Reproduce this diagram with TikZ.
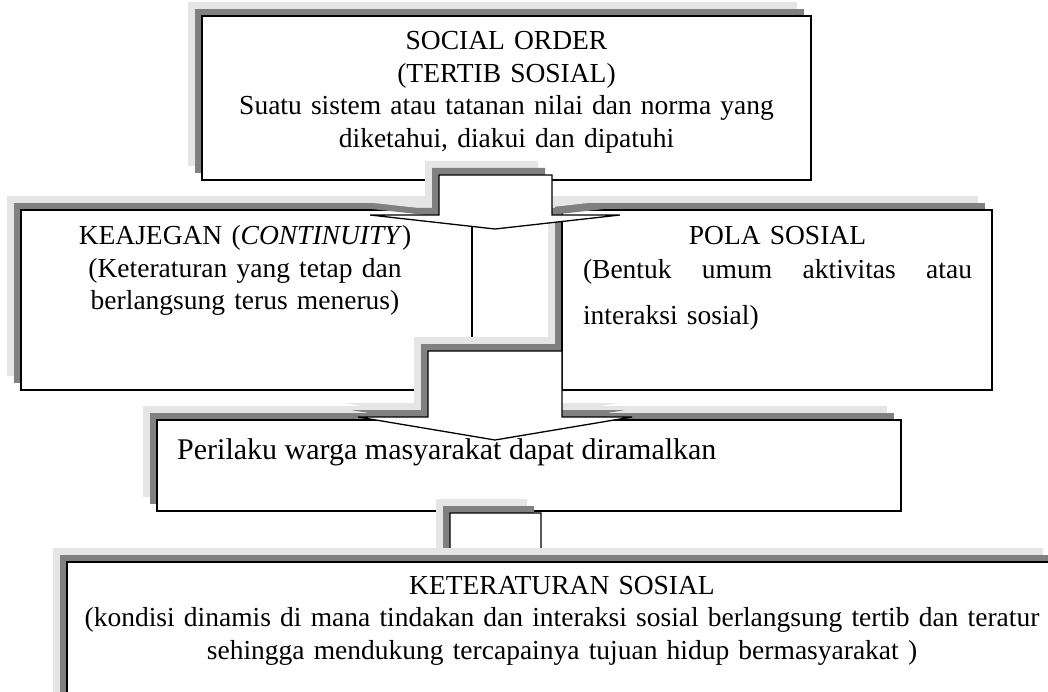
\documentclass[tikz,border=0pt]{standalone}
\usepackage{fontspec}
\setmainfont{Liberation Serif}

\definecolor{shadelight}{RGB}{229,229,229}
\definecolor{shadedark}{RGB}{128,128,128}

\begin{document}
\begin{tikzpicture}[x=1pt, y=-1pt]
		\tikzstyle {frame} = [draw, line width=1.6pt, fill=white, inner sep=0pt, outer sep=0pt, anchor=north west,
			preaction={fill=shadelight, transform canvas={xshift=-14pt, yshift=14pt}},
			preaction={fill=shadedark, transform canvas={xshift=-7pt, yshift=7pt}}]
		\tikzstyle {block arrow} = [draw, line width=1.3pt, fill=white, line join=miter,
			preaction={fill=shadelight, transform canvas={xshift=-14pt, yshift=14pt}},
			preaction={fill=shadedark, transform canvas={xshift=-7pt, yshift=7pt}}]
		\tikzstyle {boxtext} = [inner sep=0pt, anchor=base, align=center, font=\fontsize{27.5}{32.5}\selectfont]

		\useasboundingbox (0,0) rectangle (1048,692);
		\fill[white] (0,0) rectangle (1048,692);
		\clip (0,0) rectangle (1048,692);

		% social order
		\node[frame, minimum width=609, minimum height=164] (order) at (202,16) {};
		\node[boxtext, text width=600] (ordertext) at (506.5,50) {SOCIAL ORDER\\(TERTIB SOSIAL)\\Suatu sistem atau tatanan nilai dan norma yang\\diketahui, diakui dan dipatuhi};

		% keajegan and pola sosial
		\node[frame, minimum width=451, minimum height=180] (keajegan) at (21,210) {};
		\node[boxtext, text width=420] (keajegantext) at (245,245) {KEAJEGAN (\textit{CONTINUITY})\\(Keteraturan yang tetap dan\\berlangsung terus menerus)};

		\node[frame, minimum width=430, minimum height=180] (pola) at (562,210) {};
		\node[boxtext, text width=389, align=left] (polatext) at (777.5,245) {\makebox[\linewidth]{POLA SOSIAL}\\[1.5pt]
			(Bentuk\hfill umum\hfill aktivitas\hfill atau\\[13.5pt]
			interaksi sosial)};

		\draw[block arrow] (439,175) -- (552,175) -- (552,215) -- (620,215) -- (495,229) -- (370,215) -- (439,215) -- cycle;

		% perilaku
		\node[frame, minimum width=744, minimum height=91] (perilaku) at (157,420) {};
		\node[boxtext, anchor=base west, font=\fontsize{30}{36}\selectfont] (perilakutext) at (177,459) {Perilaku warga masyarakat dapat diramalkan};

		\draw[block arrow] (428,351) -- (562,351) -- (562,417) -- (632,417) -- (495,440) -- (358,417) -- (428,417) -- cycle;
		\draw[block arrow] (450,513) -- (541,513) -- (541,580) -- (600,580) -- (495,600) -- (390,580) -- (450,580) -- cycle;

		% keteraturan sosial
		\node[frame, minimum width=990, minimum height=160] (keteraturan) at (67,562) {};
		\node[boxtext, text width=960] (keteraturantext) at (562,594) {KETERATURAN SOSIAL\\(kondisi dinamis di mana tindakan dan interaksi sosial berlangsung tertib dan teratur\\sehingga mendukung tercapainya tujuan hidup bermasyarakat )};
\end{tikzpicture}
\end{document}
